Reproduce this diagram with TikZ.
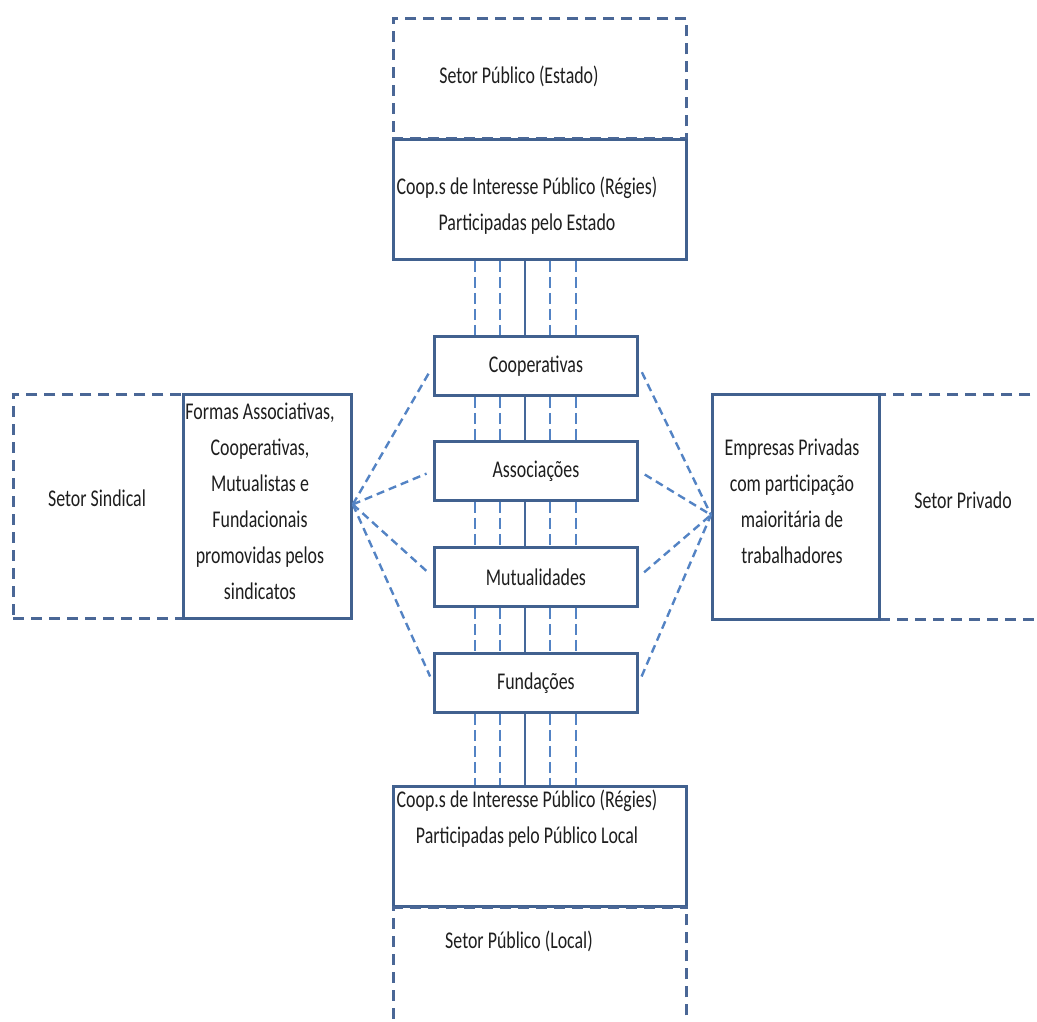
\documentclass[tikz,border=0pt]{standalone}
\usepackage{fontspec}
\newfontfamily\labfont[FakeStretch=0.745]{Carlito}
\usetikzlibrary{calc}
\definecolor{boxblue}{HTML}{41618F}
\definecolor{sectorblue}{HTML}{4A6796}
\definecolor{linkblue}{HTML}{5383C4}
\definecolor{inktext}{HTML}{1E1E1E}
\begin{document}
\begin{tikzpicture}[x=1pt,y=-1pt,
  txt/.style={font=\labfont\fontsize{24}{36}\selectfont,text=inktext,align=center,inner sep=0pt},
  solidbox/.style={draw=boxblue,line width=2.8pt,fill=white,rectangle,inner sep=0pt,anchor=north west},
  sectorbox/.style={draw=sectorblue,line width=2.8pt,dash pattern=on 11pt off 7pt,rectangle,inner sep=0pt,anchor=north west},
  entity/.style={solidbox,minimum width=203pt,minimum height=59pt,font=\labfont\fontsize{24}{36}\selectfont,text=inktext},
  link/.style={draw=linkblue,line width=2.4pt,dash pattern=on 8pt off 5pt},
  rail/.style={draw=linkblue,line width=1.8pt,dash pattern=on 11pt off 5pt},
  spine/.style={draw=boxblue!80!linkblue,line width=2.2pt}]
\useasboundingbox (0,0) rectangle (1037,1022);
\clip (0,0) rectangle (1037,1022);

% sector frames (dashed)
\node[sectorbox,minimum width=293pt,minimum height=121pt] (estado) at (392,17) {};
\node[sectorbox,minimum width=293pt,minimum height=140pt] (local) at (392,905) {};
\node[sectorbox,minimum width=170pt,minimum height=224pt] (sindical) at (12,393) {};
\node[sectorbox,minimum width=170pt,minimum height=225pt] (privado) at (878,393) {};

% bridging organisations (solid)
\node[solidbox,minimum width=293pt,minimum height=120pt] (regEstado) at (392,138) {};
\node[solidbox,minimum width=293pt,minimum height=120pt] (regLocal) at (392,785) {};
\node[solidbox,minimum width=168pt,minimum height=224pt] (sindForms) at (182,393) {};
\node[solidbox,minimum width=167pt,minimum height=225pt] (empresas) at (711,393) {};

% shared edges of the sector frames stay dashed
\draw[sectorbox] (regEstado.north west) -- (regEstado.north east);
\draw[sectorbox] (regLocal.south west) -- (regLocal.south east);

% central entities
\node[entity] (coop) at (433,335) {Cooperativas};
\node[entity] (asso) at (433,440) {Associações};
\node[entity] (mutu) at (433,546) {Mutualidades};
\node[entity] (fund) at (433,652) {Fundações};

% texts
\node[txt] (tEstado) at (519,76) {Setor Público (Estado)};
\node[txt] (tRegEstado) at (527,206) {Coop.s de Interesse Público (Régies)\\Participadas pelo Estado};
\node[txt] (tRegLocal) at (527,819) {Coop.s de Interesse Público (Régies)\\Participadas pelo Público Local};
\node[txt] (tLocal) at (519,941) {Setor Público (Local)};
\node[txt] (tSindical) at (97,498) {Setor Sindical};
\node[txt] (tSindForms) at (260,501) {Formas Associativas,\\Cooperativas,\\Mutualistas e\\Fundacionais\\promovidas pelos\\sindicatos};
\node[txt] (tEmpresas) at (792,501) {Empresas Privadas\\com participação\\maioritária de\\trabalhadores};
\node[txt] (tPrivado) at (963,500) {Setor Privado};

% vertical rails between the stacked boxes
\coordinate (r1) at (475,0);
\coordinate (r2) at (500,0);
\coordinate (r3) at (525,0);
\coordinate (r4) at (550,0);
\coordinate (r5) at (576,0);
\foreach \a/\b in {regEstado.south/coop.north, coop.south/asso.north, asso.south/mutu.north, mutu.south/fund.north, fund.south/regLocal.north}{
  \draw[rail] (\a -| r1) -- (\b -| r1);
  \draw[rail] (\a -| r2) -- (\b -| r2);
  \draw[spine] (\a -| r3) -- (\b -| r3);
  \draw[rail] (\a -| r4) -- (\b -| r4);
  \draw[rail] (\a -| r5) -- (\b -| r5);
}

% fan-out links to the side sectors
\coordinate (lp) at ($(sindForms.east)+(0,-2)$);
\coordinate (rp) at ($(empresas.west)+(0,8)$);
\foreach \n in {coop,asso,mutu,fund}{
  \draw[link,shorten >=7pt] (lp) -- (\n.west);
  \draw[link,shorten <=7pt] (\n.east) -- (rp);
}
\end{tikzpicture}
\end{document}
